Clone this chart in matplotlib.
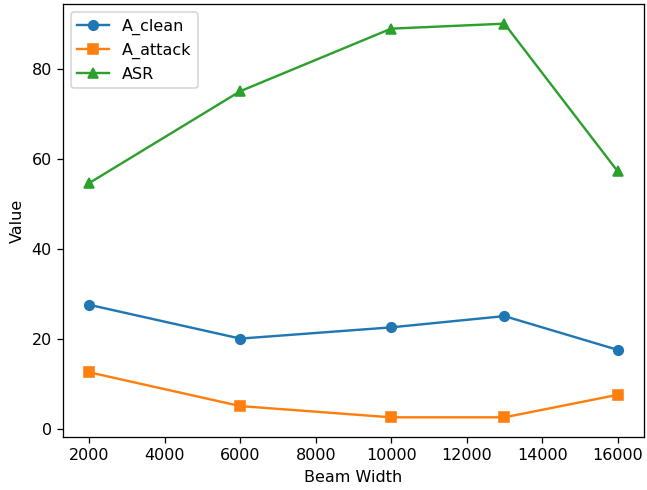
import matplotlib
matplotlib.use("Agg")
import matplotlib.pyplot as plt

beam_width = [2000, 6000, 10000, 13000, 16000]
a_clean = [27.5, 20.0, 22.5, 25.0, 17.5]
a_attack = [12.5, 5.0, 2.5, 2.5, 7.5]
asr = [54.6, 75.0, 88.9, 90.0, 57.2]

dpi = 115
fig, ax = plt.subplots(figsize=(647 / dpi, 490 / dpi), dpi=dpi)
ax.plot(beam_width, a_clean, marker="o", label="A_clean")
ax.plot(beam_width, a_attack, marker="s", label="A_attack")
ax.plot(beam_width, asr, marker="^", label="ASR")
ax.set_xlabel("Beam Width")
ax.set_ylabel("Value")
ax.legend(loc="upper left")
fig.subplots_adjust(left=63 / 647, right=644 / 647, top=1 - 4 / 490, bottom=1 - 437 / 490)
fig.savefig("out.png")
